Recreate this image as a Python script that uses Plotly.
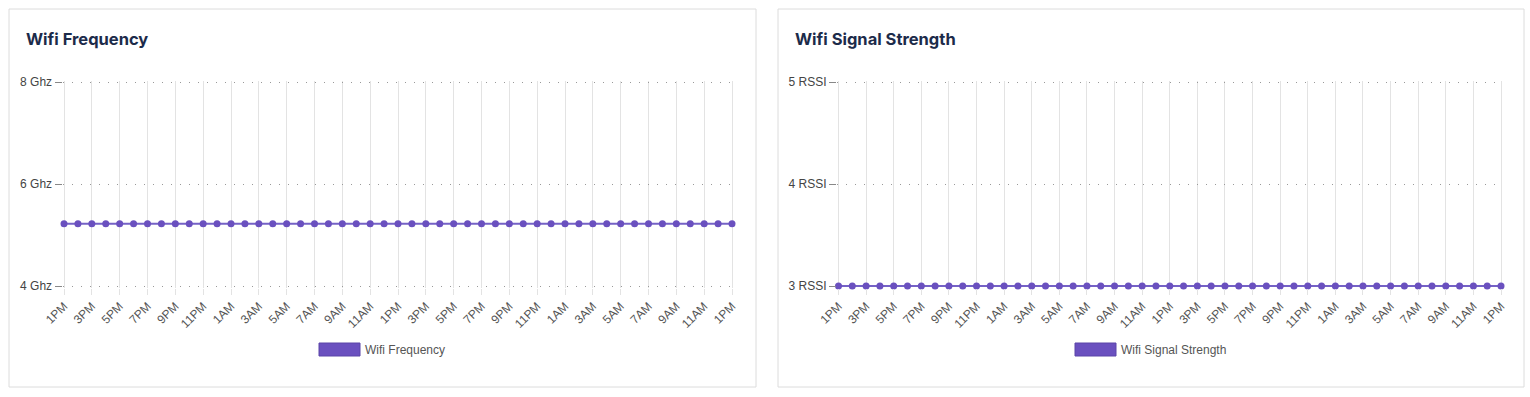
import plotly.graph_objects as go

W, H = 1530, 397

hours = list(range(49))
tick_hours = list(range(0, 49, 2))
tick_labels = ["1PM", "3PM", "5PM", "7PM", "9PM", "11PM", "1AM", "3AM", "5AM", "7AM", "9AM", "11AM",
               "1PM", "3PM", "5PM", "7PM", "9PM", "11PM", "1AM", "3AM", "5AM", "7AM", "9AM", "11AM", "1PM"]

freq_values = [5.22, 5.22, 5.22, 5.22, 5.22, 5.22, 5.22, 5.22, 5.22, 5.22,
               5.22, 5.22, 5.22, 5.22, 5.22, 5.22, 5.22, 5.22, 5.22, 5.22,
               5.22, 5.22, 5.22, 5.22, 5.22, 5.22, 5.22, 5.22, 5.22, 5.22,
               5.22, 5.22, 5.22, 5.22, 5.22, 5.22, 5.22, 5.22, 5.22, 5.22,
               5.22, 5.22, 5.22, 5.22, 5.22, 5.22, 5.22, 5.22, 5.22]
rssi_values = [3, 3, 3, 3, 3, 3, 3, 3, 3, 3,
               3, 3, 3, 3, 3, 3, 3, 3, 3, 3,
               3, 3, 3, 3, 3, 3, 3, 3, 3, 3,
               3, 3, 3, 3, 3, 3, 3, 3, 3, 3,
               3, 3, 3, 3, 3, 3, 3, 3, 3]

freq_ticks = [4, 6, 8]
freq_ticktext = ["4 Ghz", "6 Ghz", "8 Ghz"]
rssi_ticks = [3, 4, 5]
rssi_ticktext = ["3 RSSI", "4 RSSI", "5 RSSI"]

titles = ["Wifi Frequency", "Wifi Signal Strength"]
series_names = ["Wifi Frequency", "Wifi Signal Strength"]

PURPLE = "#6a50bf"
LINE = "#7562c6"

def px_x(p):
    return p / W

def px_y(p):
    return 1 - p / H

fig = go.Figure()

panels = [
    dict(x0=64, x1=732, card=(9, 756), vals=freq_values, ticks=freq_ticks, tt=freq_ticktext,
         rng=[4, 8], xa="x", ya="y", title=titles[0], name=series_names[0], leg=(319, 365)),
    dict(x0=838.5, x1=1501, card=(778, 1524), vals=rssi_values, ticks=rssi_ticks, tt=rssi_ticktext,
         rng=[3, 5], xa="x2", ya="y2", title=titles[1], name=series_names[1], leg=(1075, 1121)),
]

# small padding (in pixels) so grid lines at the range ends are still drawn
PAD = 1.5

shapes = []
annotations = []
for i, p in enumerate(panels):
    fig.add_trace(go.Scatter(
        x=hours, y=p["vals"], mode="lines+markers", name=p["name"],
        xaxis=p["xa"], yaxis=p["ya"], showlegend=False, cliponaxis=False,
        line=dict(color=LINE, width=2),
        marker=dict(color=PURPLE, size=7, line=dict(width=0)),
    ))
    suffix = "" if i == 0 else "2"
    xpx = (p["x1"] - p["x0"]) / 48.0
    xpad = PAD / xpx
    ylo, yhi = p["rng"]
    ypx = (286 - 82) / (yhi - ylo)
    ypad = PAD / ypx
    fig.update_layout(**{
        "xaxis" + suffix: dict(
            domain=[px_x(p["x0"] - PAD), px_x(p["x1"] + PAD)], anchor="y" + suffix, automargin=False,
            range=[-xpad, 48 + xpad], tickmode="array", tickvals=tick_hours, ticktext=tick_labels,
            tickangle=-45, showgrid=True, gridcolor="#e3e3e3", gridwidth=1,
            ticks="outside", ticklen=6, tickcolor="#e3e3e3", zeroline=False, showline=False,
            tickfont=dict(family="Liberation Sans, Arial, sans-serif", size=12, color="#555555"),
        ),
        "yaxis" + suffix: dict(
            domain=[px_y(286 + PAD), px_y(82 - PAD)], anchor="x" + suffix, automargin=False,
            range=[ylo - ypad, yhi + ypad], tickmode="array", tickvals=p["ticks"], ticktext=p["tt"],
            showgrid=True, gridcolor="#999999", gridwidth=1, griddash="1px,8px",
            ticks="outside", ticklen=7, tickcolor="#888888", zeroline=False, showline=False,
            tickfont=dict(family="Liberation Sans, Arial, sans-serif", size=12, color="#444444"),
        ),
    })
    cx0, cx1 = p["card"]
    shapes.append(dict(type="rect", xref="paper", yref="paper",
                       x0=px_x(cx0), x1=px_x(cx1), y0=px_y(387), y1=px_y(9),
                       line=dict(color="#dcdcdc", width=1), fillcolor="rgba(0,0,0,0)", layer="below"))
    annotations.append(dict(text="<b>" + p["title"] + "</b>", xref="paper", yref="paper",
                            x=px_x(cx0 + 15), y=px_y(39), xanchor="left", yanchor="middle",
                            showarrow=False,
                            font=dict(family="Inter, Roboto, sans-serif", size=16.5, color="#1c2b4a")))
    lx, tx = p["leg"]
    shapes.append(dict(type="rect", xref="paper", yref="paper",
                       x0=px_x(lx), x1=px_x(lx + 41), y0=px_y(356), y1=px_y(343),
                       line=dict(color="#5a45a8", width=1), fillcolor=PURPLE))
    annotations.append(dict(text=p["name"], xref="paper", yref="paper",
                            x=px_x(tx - 2), y=px_y(350), xanchor="left", yanchor="middle",
                            showarrow=False,
                            font=dict(family="Liberation Sans, Arial, sans-serif", size=12, color="#555555")))

fig.update_layout(
    width=W, height=H, margin=dict(l=0, r=0, t=0, b=0, autoexpand=False),
    paper_bgcolor="white", plot_bgcolor="white",
    shapes=shapes, annotations=annotations, showlegend=False,
)

fig.write_html("out.html", config={"displayModeBar": False},
               post_script="document.body.style.margin='0';document.body.style.overflow='hidden';")
